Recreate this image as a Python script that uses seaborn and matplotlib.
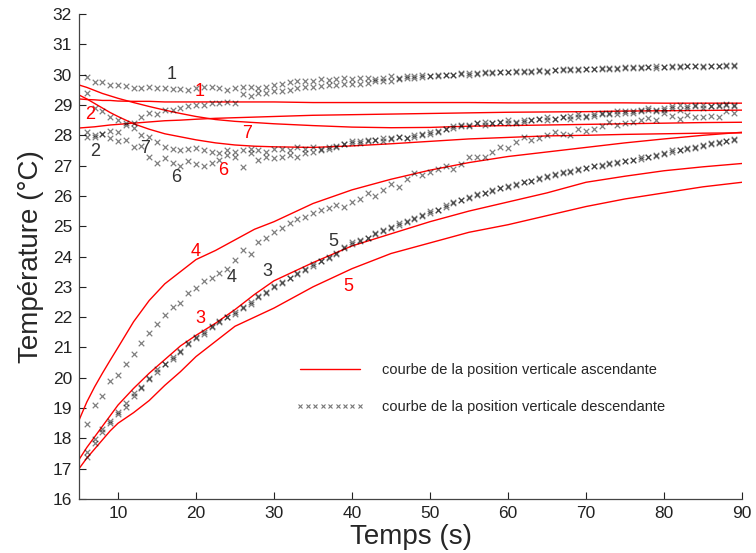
import numpy as np
import pandas as pd
import matplotlib
matplotlib.use("Agg")
import matplotlib.pyplot as plt
from matplotlib.lines import Line2D
import seaborn as sns

# --- courbes continues (position verticale ascendante) ---
temps_rouge = [5, 6, 7, 8, 9, 10, 12, 14, 16, 18, 20, 22.5, 25, 27.5, 30,
               35, 40, 45, 50, 55, 60, 65, 70, 75, 80, 85, 90]

rouge_1 = [29.20, 29.18, 29.17, 29.15, 29.15, 29.13, 29.12, 29.12, 29.10, 29.10,
           29.10, 29.10, 29.10, 29.10, 29.10, 29.08, 29.08, 29.08, 29.08, 29.08,
           29.07, 29.07, 29.07, 29.07, 29.06, 29.06, 29.06]
rouge_2 = [28.24, 28.26, 28.28, 28.31, 28.34, 28.36, 28.40, 28.44, 28.48, 28.50,
           28.53, 28.56, 28.58, 28.60, 28.62, 28.66, 28.68, 28.70, 28.72, 28.74,
           28.76, 28.77, 28.78, 28.80, 28.81, 28.82, 28.83]
rouge_3 = [17.30, 17.70, 18.05, 18.40, 18.75, 19.10, 19.65, 20.15, 20.60, 21.05,
           21.40, 21.80, 22.25, 22.75, 23.20, 23.80, 24.35, 24.75, 25.15, 25.50,
           25.80, 26.10, 26.45, 26.65, 26.83, 26.96, 27.07]
rouge_4 = [18.60, 19.20, 19.70, 20.15, 20.58, 21.00, 21.85, 22.55, 23.10, 23.50,
           23.90, 24.20, 24.55, 24.90, 25.15, 25.75, 26.20, 26.55, 26.85, 27.10,
           27.30, 27.45, 27.60, 27.75, 27.88, 28.00, 28.10]
rouge_5 = [17.00, 17.35, 17.65, 17.95, 18.25, 18.50, 18.85, 19.25, 19.75, 20.20,
           20.70, 21.20, 21.70, 22.00, 22.30, 23.00, 23.60, 24.10, 24.45, 24.80,
           25.05, 25.35, 25.65, 25.90, 26.10, 26.30, 26.45]
rouge_6 = [29.33, 29.20, 29.05, 28.90, 28.75, 28.62, 28.38, 28.20, 28.05, 27.95,
           27.85, 27.75, 27.68, 27.64, 27.62, 27.60, 27.65, 27.72, 27.80, 27.88,
           27.93, 27.98, 28.00, 28.03, 28.05, 28.07, 28.08]
rouge_7 = [29.66, 29.58, 29.48, 29.38, 29.30, 29.22, 29.08, 28.95, 28.83, 28.72,
           28.62, 28.52, 28.46, 28.42, 28.38, 28.32, 28.27, 28.25, 28.26, 28.30,
           28.32, 28.34, 28.36, 28.38, 28.40, 28.42, 28.43]

# --- points (position verticale descendante), un point par seconde de 6 a 89 s ---
temps_marq = list(range(6, 90))

marq_1 = [29.92, 29.77, 29.75, 29.66, 29.66, 29.62, 29.55, 29.55, 29.58, 29.57,
          29.55, 29.52, 29.52, 29.50, 29.55, 29.58, 29.60, 29.55, 29.50, 29.55,
          29.60, 29.60, 29.55, 29.60, 29.65, 29.68, 29.75, 29.80, 29.78, 29.80,
          29.85, 29.82, 29.85, 29.88, 29.85, 29.88, 29.90, 29.85, 29.90, 29.95,
          29.90, 29.95, 29.95, 29.98, 29.95, 30.00, 30.00, 29.98, 30.05, 30.00,
          30.05, 30.05, 30.10, 30.08, 30.10, 30.12, 30.10, 30.12, 30.12, 30.10,
          30.15, 30.18, 30.15, 30.15, 30.20, 30.20, 30.18, 30.22, 30.20, 30.22,
          30.25, 30.22, 30.25, 30.22, 30.25, 30.28, 30.25, 30.28, 30.30, 30.25,
          30.28, 30.30, 30.28, 30.32]
marq_2 = [28.10, 27.95, 28.05, 28.15, 28.10, 28.35, 28.40, 28.60, 28.73, 28.70,
          28.83, 28.85, 28.90, 28.95, 29.00, 29.00, 29.05, 29.05, 29.10, 29.05,
          29.35, 29.30, 29.40, 29.38, 29.45, 29.45, 29.50, 29.55, 29.60, 29.60,
          29.62, 29.65, 29.65, 29.70, 29.68, 29.70, 29.72, 29.78, 29.80, 29.80,
          29.85, 29.88, 29.90, 29.92, 29.95, 29.95, 30.00, 30.00, 30.02, 30.05,
          30.02, 30.08, 30.05, 30.10, 30.10, 30.08, 30.12, 30.10, 30.15, 30.12,
          30.15, 30.15, 30.18, 30.20, 30.18, 30.20, 30.22, 30.20, 30.22, 30.25,
          30.22, 30.25, 30.25, 30.28, 30.25, 30.25, 30.30, 30.28, 30.28, 30.30,
          30.28, 30.30, 30.32, 30.30]
marq_3 = [17.40, 17.85, 18.20, 18.50, 18.80, 19.05, 19.40, 19.65, 19.95, 20.20,
          20.45, 20.62, 20.85, 21.10, 21.30, 21.45, 21.68, 21.85, 22.00, 22.10,
          22.30, 22.45, 22.65, 22.80, 22.98, 23.12, 23.30, 23.42, 23.55, 23.70,
          23.85, 23.95, 24.12, 24.28, 24.40, 24.50, 24.62, 24.75, 24.85, 24.98,
          25.05, 25.15, 25.25, 25.35, 25.45, 25.55, 25.65, 25.75, 25.85, 25.92,
          26.02, 26.08, 26.18, 26.25, 26.32, 26.38, 26.45, 26.50, 26.58, 26.65,
          26.70, 26.75, 26.82, 26.85, 26.92, 26.98, 27.00, 27.05, 27.10, 27.15,
          27.20, 27.22, 27.28, 27.32, 27.38, 27.45, 27.50, 27.55, 27.58, 27.65,
          27.70, 27.75, 27.80, 27.85]
marq_4 = [18.47, 19.10, 19.40, 19.90, 20.10, 20.45, 20.80, 21.14, 21.47, 21.76,
          22.06, 22.33, 22.46, 22.80, 22.96, 23.19, 23.29, 23.45, 23.58, 23.90,
          24.20, 24.07, 24.47, 24.60, 24.80, 24.95, 25.10, 25.25, 25.30, 25.45,
          25.55, 25.60, 25.70, 25.63, 25.80, 25.90, 26.10, 26.00, 26.20, 26.40,
          26.30, 26.55, 26.75, 26.70, 26.80, 26.90, 27.00, 26.90, 27.05, 27.30,
          27.30, 27.30, 27.45, 27.60, 27.57, 27.77, 27.94, 27.84, 27.90, 28.00,
          28.10, 28.05, 28.00, 28.20, 28.15, 28.20, 28.30, 28.43, 28.35, 28.40,
          28.43, 28.50, 28.57, 28.50, 28.73, 28.65, 28.55, 28.67, 28.60, 28.60,
          28.65, 28.60, 28.80, 28.75]
marq_5 = [17.55, 17.97, 18.30, 18.57, 18.86, 19.16, 19.50, 19.70, 20.00, 20.28,
          20.45, 20.68, 20.88, 21.14, 21.34, 21.50, 21.70, 21.87, 22.00, 22.16,
          22.33, 22.50, 22.70, 22.83, 23.02, 23.15, 23.30, 23.45, 23.60, 23.75,
          23.85, 24.00, 24.10, 24.30, 24.47, 24.54, 24.60, 24.77, 24.87, 24.94,
          25.10, 25.17, 25.27, 25.37, 25.50, 25.53, 25.70, 25.80, 25.87, 25.96,
          26.06, 26.10, 26.16, 26.26, 26.30, 26.36, 26.46, 26.50, 26.55, 26.62,
          26.72, 26.78, 26.78, 26.88, 26.92, 26.98, 27.02, 27.08, 27.12, 27.15,
          27.20, 27.28, 27.30, 27.35, 27.42, 27.50, 27.52, 27.58, 27.62, 27.68,
          27.74, 27.78, 27.82, 27.87]
marq_6 = [27.95, 28.00, 28.05, 27.90, 27.80, 27.85, 27.60, 27.65, 27.30, 27.10,
          27.25, 27.10, 27.00, 27.15, 27.05, 27.00, 27.10, 27.20, 27.35, 27.30,
          26.95, 27.40, 27.20, 27.30, 27.25, 27.30, 27.35, 27.30, 27.40, 27.45,
          27.50, 27.55, 27.60, 27.70, 27.80, 27.75, 27.80, 27.85, 27.80, 27.90,
          27.95, 27.90, 28.00, 28.05, 28.10, 28.15, 28.20, 28.25, 28.30, 28.35,
          28.40, 28.45, 28.40, 28.45, 28.50, 28.40, 28.45, 28.50, 28.55, 28.60,
          28.55, 28.60, 28.65, 28.70, 28.60, 28.65, 28.70, 28.75, 28.70, 28.80,
          28.75, 28.80, 28.85, 28.80, 28.85, 28.90, 28.85, 28.90, 28.95, 28.90,
          28.95, 28.95, 29.00, 28.95]
marq_7 = [29.40, 28.90, 28.80, 28.60, 28.50, 28.40, 28.23, 28.00, 27.95, 27.77,
          27.60, 27.55, 27.50, 27.55, 27.57, 27.50, 27.45, 27.40, 27.50, 27.45,
          27.50, 27.55, 27.50, 27.45, 27.55, 27.55, 27.50, 27.60, 27.55, 27.60,
          27.55, 27.60, 27.65, 27.70, 27.75, 27.80, 27.85, 27.85, 27.90, 27.88,
          27.95, 27.90, 27.95, 28.00, 28.05, 28.10, 28.20, 28.30, 28.35, 28.30,
          28.40, 28.35, 28.40, 28.45, 28.40, 28.45, 28.50, 28.50, 28.55, 28.50,
          28.55, 28.60, 28.55, 28.60, 28.65, 28.70, 28.75, 28.70, 28.80, 28.75,
          28.80, 28.85, 28.90, 28.85, 28.90, 28.95, 29.00, 28.95, 29.00, 29.00,
          28.98, 29.00, 29.02, 29.00]

# numeros des courbes : (texte, t, T)
etiquettes_rouges = [("1", 20.5, 29.43), ("2", 6.4, 28.67), ("7", 26.5, 28.07),
                     ("6", 23.5, 26.85), ("4", 19.9, 24.15), ("3", 20.5, 21.95),
                     ("5", 39.5, 23.0)]
etiquettes_noires = [("1", 16.9, 29.99), ("2", 7.05, 27.45), ("7", 13.5, 27.58),
                     ("6", 17.4, 26.6), ("4", 24.6, 23.3), ("3", 29.2, 23.5),
                     ("5", 37.6, 24.5)]


def tableau_long(temps, series):
    morceaux = []
    for nom, valeurs in series.items():
        morceaux.append(pd.DataFrame({"t": temps, "T": valeurs, "courbe": nom}))
    return pd.concat(morceaux, ignore_index=True)


df_rouge = tableau_long(temps_rouge, {"1": rouge_1, "2": rouge_2, "3": rouge_3,
                                      "4": rouge_4, "5": rouge_5, "6": rouge_6,
                                      "7": rouge_7})
df_marq = tableau_long(temps_marq, {"1": marq_1, "2": marq_2, "3": marq_3,
                                    "4": marq_4, "5": marq_5, "6": marq_6,
                                    "7": marq_7})

sns.set_style("ticks")
plt.rcParams["font.family"] = ["Liberation Sans", "DejaVu Sans"]

fig = plt.figure(figsize=(7.56, 5.53), dpi=100)
ax = fig.add_axes([0.1045, 0.0976, 0.877, 0.877])

sns.lineplot(data=df_rouge, x="t", y="T", units="courbe", estimator=None,
             sort=False, color="#ff0000", linewidth=1.0, legend=False, ax=ax)
sns.scatterplot(data=df_marq, x="t", y="T", marker="x", color="black",
                alpha=0.5, s=16, linewidth=0.9, legend=False, zorder=3, ax=ax)

for txt, t, T in etiquettes_rouges:
    ax.text(t, T, txt, color="#ff0000", fontsize=13, ha="center", va="center")
for txt, t, T in etiquettes_noires:
    ax.text(t, T, txt, color="#333333", fontsize=13, ha="center", va="center")

ax.set_xlim(5, 90)
ax.set_ylim(16, 32)
ax.set_xticks(range(10, 91, 10))
ax.set_yticks(range(16, 33))
ax.tick_params(direction="in", length=5, width=0.8, labelsize=12.5, pad=5,
               colors="#222222")
for cote in ["top", "right"]:
    ax.spines[cote].set_visible(False)
for cote in ["left", "bottom"]:
    ax.spines[cote].set_color("#444444")
    ax.spines[cote].set_linewidth(0.9)

ax.set_xlabel("Temps (s)", fontsize=20, labelpad=2)
ax.set_ylabel("Température (°C)", fontsize=20, labelpad=6)

poignees = [Line2D([], [], color="#ff0000", linewidth=1.0),
            Line2D([], [], linestyle="", marker="x", color="#777777",
                   markersize=3.5, markeredgewidth=0.8)]
ax.legend(poignees,
          ["courbe de la position verticale ascendante",
           "courbe de la position verticale descendante"],
          loc="upper left", bbox_to_anchor=(0.327, 0.281), frameon=False,
          borderpad=0, borderaxespad=0, numpoints=9, handlelength=4.7,
          handletextpad=1.2, labelspacing=1.6, fontsize=10.5)

fig.savefig("out.png", dpi=100)
